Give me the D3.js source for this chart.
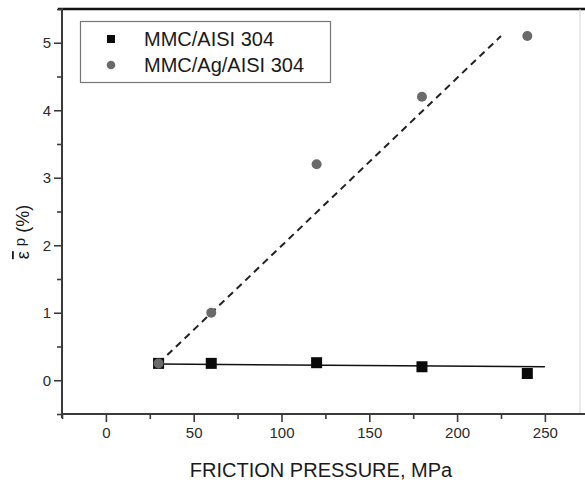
<!DOCTYPE html>
<html>
<head>
<meta charset="utf-8">
<script src="https://cdn.jsdelivr.net/npm/d3@7"></script>
<style>
  html, body { margin: 0; padding: 0; background: #fff; }
  svg { display: block; font-family: "Liberation Sans", Arial, sans-serif; }
  .axis path, .axis line { stroke: #3a3a3a; }
  .axis text { fill: #2a2a2a; font-size: 15px; font-family: "Liberation Sans", Arial, sans-serif; }
</style>
</head>
<body>
<svg id="chart" width="585" height="485"></svg>
<script>
// Friction pressure (MPa) and effective plastic strain (%)
const pressure = [30, 60, 120, 180, 240];
const strainAISI = [0.25, 0.25, 0.26, 0.20, 0.10];
const strainAg = [0.25, 1.0, 3.2, 4.2, 5.1];

// Trend lines (end points)
const fitAISIX = [30, 250];
const fitAISIY = [0.24, 0.20];
const fitAgX = [30, 225];
const fitAgY = [0.25, 5.1];

const xTicks = [0, 50, 100, 150, 200, 250];
const xMinorTicks = [-25, 25, 75, 125, 175, 225];
const yTicks = [0, 1, 2, 3, 4, 5];
const yMinorTicks = [-0.5, 0.5, 1.5, 2.5, 3.5, 4.5, 5.5];

const seriesNames = ["MMC/AISI 304", "MMC/Ag/AISI 304"];

const svg = d3.select("#chart");
const plotLeft = 62, plotRight = 580, plotTop = 9, plotBottom = 414;

const x = d3.scaleLinear().domain([-25, 270]).range([plotLeft, plotRight]);
const y = d3.scaleLinear().domain([-0.5, 5.5]).range([plotBottom, plotTop]);

// frame: top and right edges
svg.append("line").attr("x1", plotLeft - 4).attr("x2", 585).attr("y1", plotTop).attr("y2", plotTop)
  .attr("stroke", "#111").attr("stroke-width", 2.5);
svg.append("line").attr("x1", plotRight).attr("x2", plotRight).attr("y1", plotTop).attr("y2", plotBottom)
  .attr("stroke", "#d4d4d4").attr("stroke-width", 1);

// minor ticks
svg.append("g").attr("class", "axis")
  .attr("transform", `translate(0,${plotBottom})`)
  .call(d3.axisBottom(x).tickValues(xMinorTicks).tickSize(5).tickFormat("").tickSizeOuter(0))
  .call(g => g.select(".domain").remove())
  .selectAll("line").attr("stroke-width", 1.6);
svg.append("g").attr("class", "axis")
  .attr("transform", `translate(${plotLeft},0)`)
  .call(d3.axisLeft(y).tickValues(yMinorTicks).tickSize(5).tickFormat("").tickSizeOuter(0))
  .call(g => g.select(".domain").remove())
  .selectAll("line").attr("stroke-width", 1.6);

// major axes
const xAxis = svg.append("g").attr("class", "axis")
  .attr("transform", `translate(0,${plotBottom})`)
  .call(d3.axisBottom(x).tickValues(xTicks).tickFormat(d3.format("d"))
    .tickSize(8).tickPadding(5).tickSizeOuter(0));
xAxis.select(".domain").remove();
xAxis.selectAll("line").attr("stroke-width", 1.6);

const yAxis = svg.append("g").attr("class", "axis")
  .attr("transform", `translate(${plotLeft},0)`)
  .call(d3.axisLeft(y).tickValues(yTicks).tickFormat(d3.format("d"))
    .tickSize(8).tickPadding(3).tickSizeOuter(0));
yAxis.select(".domain").remove();
yAxis.selectAll("line").attr("stroke-width", 1.6);

// axis lines
svg.append("line").attr("x1", plotLeft - 1).attr("x2", 585).attr("y1", plotBottom).attr("y2", plotBottom)
  .attr("stroke", "#3a3a3a").attr("stroke-width", 2);
svg.append("line").attr("x1", plotLeft).attr("x2", plotLeft).attr("y1", plotTop - 1).attr("y2", plotBottom + 4)
  .attr("stroke", "#3a3a3a").attr("stroke-width", 2);

// trend lines
const line = d3.line().x(d => x(d[0])).y(d => y(d[1]));
svg.append("path")
  .datum(fitAISIX.map((v, i) => [v, fitAISIY[i]]))
  .attr("d", line).attr("fill", "none").attr("stroke", "#111").attr("stroke-width", 1.5);
svg.append("path")
  .datum(fitAgX.map((v, i) => [v, fitAgY[i]]))
  .attr("d", line).attr("fill", "none").attr("stroke", "#222").attr("stroke-width", 2)
  .attr("stroke-dasharray", "7,5");

// markers
const sq = 11;
svg.append("g").selectAll("rect").data(pressure).join("rect")
  .attr("x", (d) => x(d) - sq / 2)
  .attr("y", (d, i) => y(strainAISI[i]) - sq / 2)
  .attr("width", sq).attr("height", sq).attr("fill", "#0a0a0a");
svg.append("g").selectAll("circle").data(pressure).join("circle")
  .attr("cx", d => x(d))
  .attr("cy", (d, i) => y(strainAg[i]))
  .attr("r", 5).attr("fill", "#6a6a6a");

// legend
const lg = svg.append("g");
lg.append("rect").attr("x", 80.5).attr("y", 21.5).attr("width", 250).attr("height", 61)
  .attr("fill", "#fff").attr("stroke", "#777").attr("stroke-width", 1.2);
lg.append("rect").attr("x", 107).attr("y", 35).attr("width", 8).attr("height", 8).attr("fill", "#0a0a0a");
lg.append("circle").attr("cx", 111).attr("cy", 65).attr("r", 4.3).attr("fill", "#6a6a6a");
lg.selectAll("text").data(seriesNames).join("text")
  .attr("x", 144).attr("y", (d, i) => 46 + i * 26)
  .attr("font-size", 20).attr("fill", "#1a1a1a").text(d => d);

// axis titles
svg.append("text").attr("x", (plotLeft + plotRight) / 2).attr("y", 477)
  .attr("text-anchor", "middle").attr("font-size", 20).attr("fill", "#1a1a1a")
  .text("FRICTION PRESSURE, MPa");

const yt = svg.append("text")
  .attr("transform", "translate(29,232) rotate(-90)")
  .attr("text-anchor", "middle").attr("font-size", 18).attr("fill", "#1a1a1a");
yt.append("tspan").style("text-decoration", "overline").text("ε");
yt.append("tspan").attr("dx", 5).attr("dy", -4).attr("font-size", 15).text("p");
yt.append("tspan").attr("dy", 4).text(" (%)");
</script>
</body>
</html>
